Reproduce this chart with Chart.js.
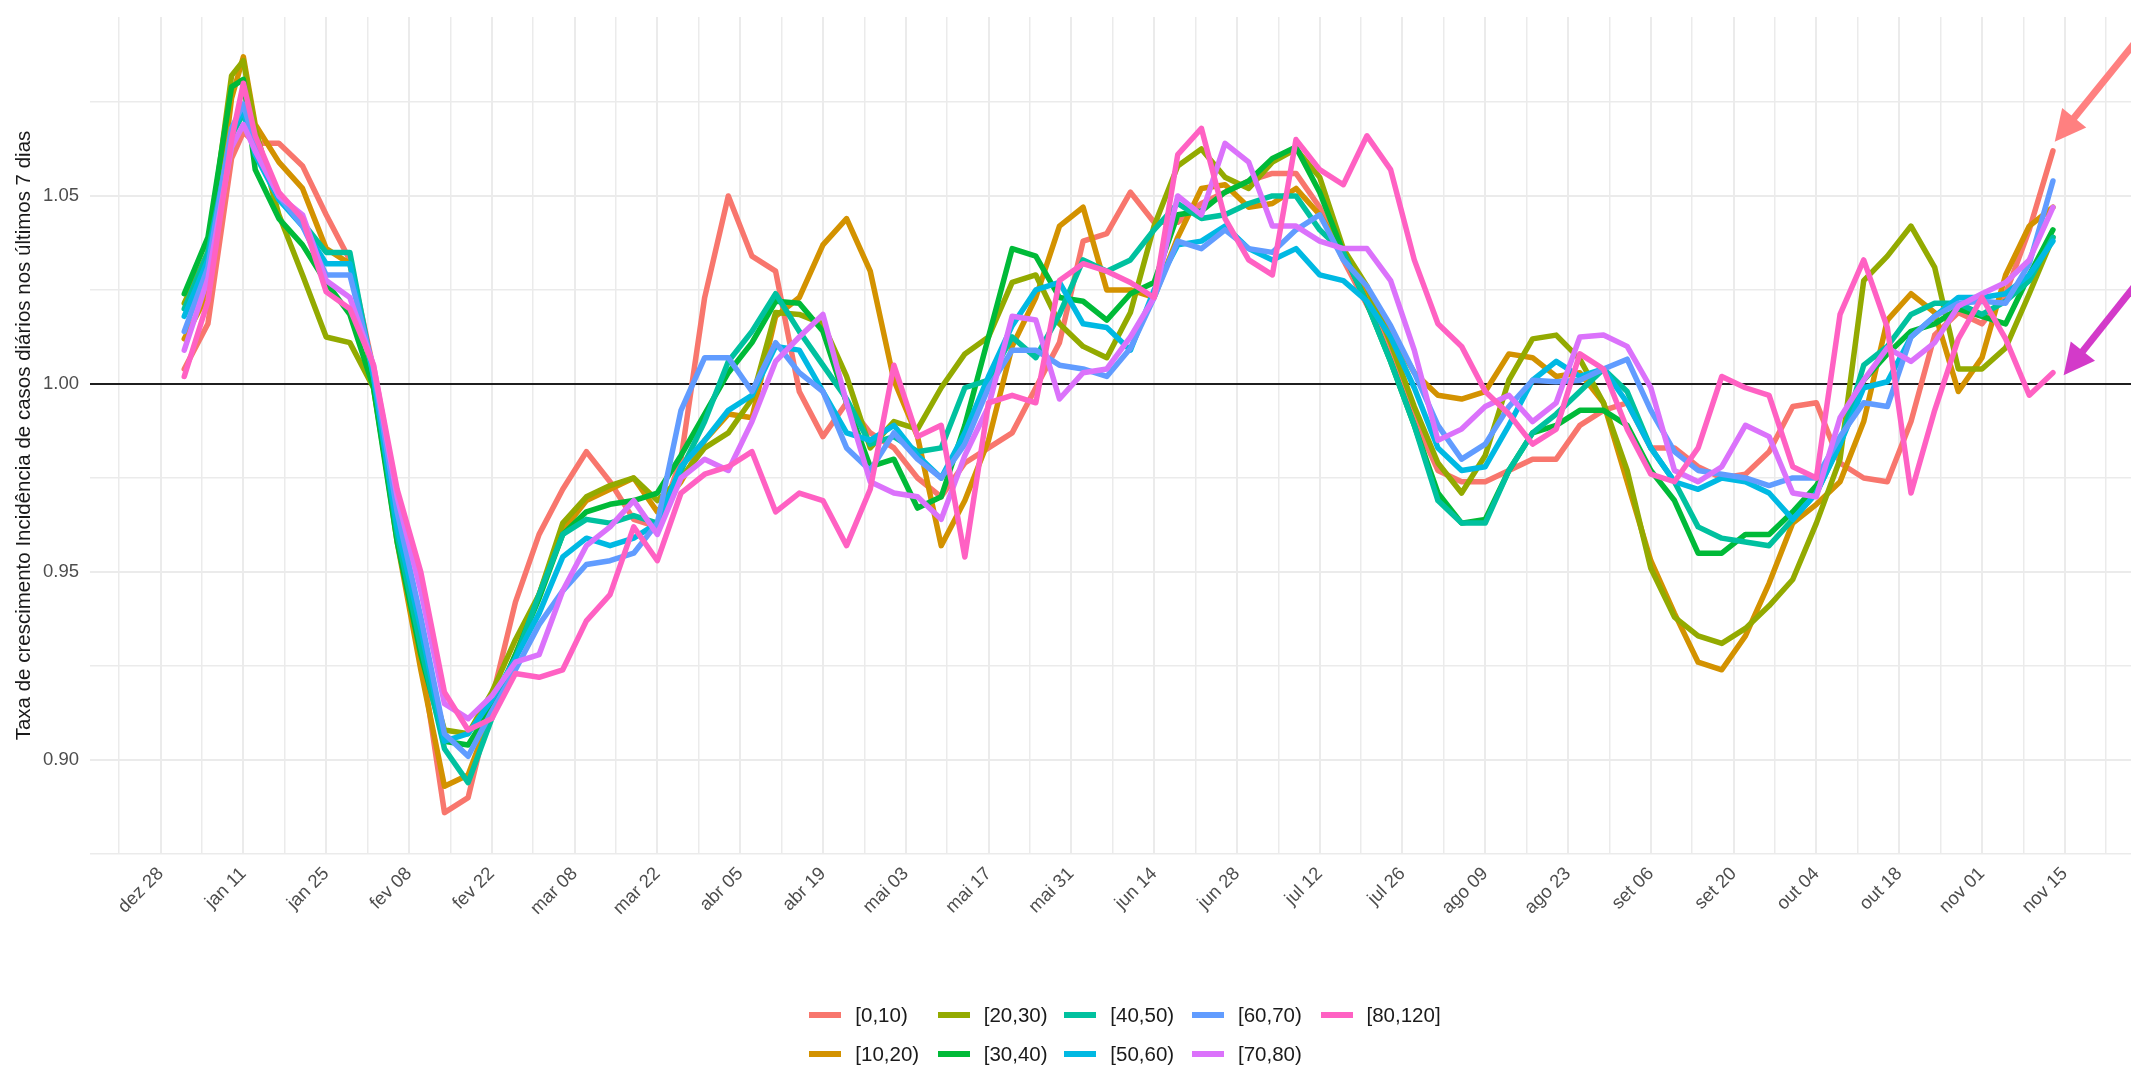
<!DOCTYPE html>
<html>
<head>
<meta charset="utf-8">
<script src="https://cdn.jsdelivr.net/npm/chart.js@4.4.1/dist/chart.umd.min.js"></script>
<style>
html,body{margin:0;padding:0;background:#fff;overflow:hidden;}
#wrap{position:relative;width:2131px;height:1068px;}
#c{position:absolute;left:0;top:0;}
#legend{position:absolute;left:0;top:0;width:2131px;height:1068px;pointer-events:none;
  font-family:"Liberation Sans",Arial,sans-serif;font-size:20.5px;color:#1a1a1a;}
.item{position:absolute;height:26px;display:flex;align-items:center;white-space:nowrap;}
.key{width:32px;height:6px;margin-right:14px;flex:none;}
</style>
</head>
<body>
<div id="wrap">
<canvas id="c" width="2131" height="1068"></canvas>
<div id="legend"></div>
</div>
<script>
// ---------------- data ----------------
// day offsets counted from 28 Dec 2020
const days = [4,8,12,14,16,20,24,28,32,36,40,44,48,52,56,60,64,68,72,76,80,84,88,92,96,100,104,108,112,116,120,124,128,132,136,140,144,148,152,156,160,164,168,172,176,180,184,188,192,196,200,204,208,212,216,220,224,228,232,236,240,244,248,252,256,260,264,268,272,276,280,284,288,292,296,300,304,308,312,316,320];

const seriesNames = ['[0,10)','[10,20)','[20,30)','[30,40)','[40,50)','[50,60)','[60,70)','[70,80)','[80,120]'];

const age0_10 = [1.004,1.016,1.060,1.067,1.064,
 1.064,1.058,1.045,1.033,1.004, 0.963,0.928,0.886,0.890,0.916, 0.942,0.960,0.972,0.982,0.974,
 0.964,0.962,0.980,1.023,1.050, 1.034,1.030,0.998,0.986,0.995, 0.987,0.983,0.975,0.970,0.979,
 0.983,0.987,0.999,1.011,1.038, 1.040,1.051,1.043,1.043,1.048, 1.051,1.054,1.056,1.056,1.047,
 1.033,1.021,1.009,0.991,0.977, 0.974,0.974,0.977,0.980,0.980, 0.989,0.993,0.995,0.983,0.983,
 0.978,0.975,0.976,0.982,0.994, 0.995,0.979,0.975,0.974,0.990, 1.013,1.019,1.016,1.024,1.041, 1.062];

const age10_20 = [1.012,1.024,1.076,1.087,1.069,
 1.059,1.052,1.036,1.032,1.001, 0.958,0.924,0.893,0.896,0.913, 0.928,0.944,0.961,0.969,0.972,
 0.975,0.966,0.974,0.985,0.992, 0.991,1.018,1.023,1.037,1.044, 1.030,1.001,0.986,0.957,0.969,
 0.985,1.010,1.023,1.042,1.047, 1.025,1.025,1.023,1.039,1.052, 1.053,1.047,1.048,1.052,1.045,
 1.035,1.024,1.014,1.003,0.997, 0.996,0.998,1.008,1.007,1.002, 1.003,0.995,0.974,0.953,0.939,
 0.926,0.924,0.933,0.947,0.963, 0.968,0.974,0.990,1.017,1.024, 1.019,0.998,1.007,1.029,1.042, 1.047];

const age20_30 = [1.0215,1.035,1.082,1.086,1.068,
 1.045,1.029,1.0125,1.011,0.999, 0.960,0.930,0.908,0.907,0.918, 0.932,0.944,0.963,0.970,0.973,
 0.975,0.969,0.975,0.983,0.987, 0.996,1.019,1.0185,1.016,1.002, 0.983,0.990,0.988,0.999,1.008,
 1.0125,1.027,1.029,1.016,1.010, 1.007,1.019,1.042,1.058,1.0625, 1.055,1.052,1.059,1.0625,1.055,
 1.036,1.026,1.011,0.994,0.979, 0.971,0.981,1.001,1.012,1.013, 1.0066,0.995,0.977,0.951,0.938,
 0.933,0.931,0.935,0.941,0.948, 0.963,0.980,1.0275,1.034,1.042, 1.031,1.004,1.004,1.0096,1.024, 1.039];

const age30_40 = [1.024,1.039,1.079,1.081,1.057,
 1.044,1.037,1.027,1.0185,0.999, 0.958,0.928,0.905,0.904,0.914, 0.928,0.943,0.960,0.966,0.968,
 0.969,0.971,0.981,0.992,1.003, 1.011,1.022,1.0215,1.014,0.995, 0.978,0.980,0.967,0.970,0.989,
 1.0125,1.036,1.034,1.023,1.022, 1.017,1.024,1.027,1.045,1.046, 1.051,1.054,1.060,1.063,1.051,
 1.035,1.0215,1.006,0.989,0.971, 0.963,0.964,0.977,0.987,0.989, 0.993,0.993,0.989,0.977,0.969,
 0.955,0.955,0.960,0.960,0.966, 0.973,0.984,1.001,1.008,1.014, 1.016,1.020,1.018,1.016,1.029, 1.041];

const age40_50 = [1.020,1.035,1.066,1.072,1.062,
 1.050,1.043,1.035,1.035,1.002, 0.960,0.930,0.903,0.894,0.911, 0.927,0.944,0.960,0.964,0.963,
 0.965,0.963,0.977,0.990,1.006, 1.014,1.024,1.014,1.005,0.996, 0.984,0.986,0.982,0.983,0.999,
 1.001,1.0125,1.007,1.0185,1.033, 1.030,1.033,1.041,1.048,1.044, 1.045,1.048,1.050,1.050,1.041,
 1.035,1.0215,1.006,0.989,0.969, 0.963,0.963,0.977,0.987,0.992, 0.998,1.004,0.998,0.983,0.974,
 0.962,0.959,0.958,0.957,0.964, 0.971,0.984,1.005,1.010,1.0185, 1.0215,1.0215,1.0185,1.022,1.0275, 1.039];

const age50_60 = [1.018,1.033,1.067,1.073,1.061,
 1.049,1.042,1.032,1.032,1.002, 0.962,0.935,0.905,0.907,0.916, 0.927,0.939,0.954,0.959,0.957,
 0.959,0.963,0.978,0.985,0.993, 0.997,1.010,1.009,0.998,0.987, 0.985,0.989,0.981,0.975,0.987,
 1.002,1.0155,1.025,1.027,1.016, 1.015,1.009,1.025,1.037,1.038, 1.042,1.036,1.033,1.036,1.029,
 1.0275,1.022,1.0125,0.999,0.983, 0.977,0.978,0.989,1.001,1.006, 1.002,1.004,0.995,0.983,0.974,
 0.972,0.975,0.974,0.971,0.964, 0.971,0.984,0.999,1.0006,1.0125, 1.018,1.023,1.023,1.024,1.029, 1.038];

const age60_70 = [1.014,1.031,1.068,1.0745,1.063,
 1.050,1.042,1.029,1.029,1.004, 0.966,0.938,0.907,0.901,0.913, 0.924,0.936,0.945,0.952,0.953,
 0.955,0.963,0.993,1.007,1.007, 0.998,1.011,1.003,0.998,0.983, 0.977,0.987,0.980,0.975,0.984,
 0.999,1.009,1.009,1.005,1.004, 1.002,1.0095,1.023,1.038,1.036, 1.041,1.036,1.035,1.041,1.045,
 1.033,1.026,1.0155,1.003,0.989, 0.980,0.984,0.994,1.001,1.0006, 1.001,1.004,1.0066,0.993,0.982,
 0.977,0.976,0.975,0.973,0.975, 0.975,0.986,0.995,0.994,1.0125, 1.018,1.0215,1.022,1.0215,1.032, 1.054];

const age70_80 = [1.009,1.028,1.063,1.069,1.062,
 1.050,1.045,1.0275,1.023,1.005, 0.970,0.945,0.915,0.911,0.917, 0.926,0.928,0.945,0.957,0.962,
 0.969,0.960,0.975,0.980,0.977, 0.990,1.006,1.0125,1.0185,0.995, 0.974,0.971,0.970,0.964,0.981,
 0.994,1.018,1.017,0.996,1.003, 1.004,1.0125,1.023,1.050,1.045, 1.064,1.059,1.042,1.042,1.038,
 1.036,1.036,1.0275,1.009,0.985, 0.988,0.994,0.997,0.990,0.995, 1.0125,1.013,1.010,0.999,0.977,
 0.974,0.978,0.989,0.986,0.971, 0.970,0.991,1.001,1.0096,1.006, 1.011,1.0207,1.024,1.027,1.033, 1.047];

const age80_120 = [1.002,1.022,1.065,1.080,1.066,
 1.051,1.044,1.0245,1.020,1.005, 0.972,0.950,0.918,0.908,0.911, 0.923,0.922,0.924,0.937,0.944,
 0.962,0.953,0.971,0.976,0.978, 0.982,0.966,0.971,0.969,0.957, 0.972,1.005,0.986,0.989,0.954,
 0.995,0.997,0.995,1.0275,1.032, 1.030,1.027,1.023,1.061,1.068, 1.044,1.033,1.029,1.065,1.057,
 1.053,1.066,1.057,1.033,1.016, 1.010,0.998,0.992,0.984,0.988, 1.008,1.004,0.988,0.976,0.974,
 0.983,1.002,0.999,0.997,0.978, 0.975,1.0185,1.033,1.015,0.971, 0.993,1.012,1.023,1.012,0.997, 1.003];

const seriesValues = [age0_10,age10_20,age20_30,age30_40,age40_50,age50_60,age60_70,age70_80,age80_120];
const seriesColors = ['#F8766D','#D39200','#93AA00','#00BA38','#00C19F','#00B9E3','#619CFF','#DB72FB','#FF61C3'];

// x tick labels every 14 days starting at day 0 (dez 28)
const xTickLabels = ['dez 28','jan 11','jan 25','fev 08','fev 22','mar 08','mar 22','abr 05','abr 19','mai 03','mai 17','mai 31','jun 14','jun 28','jul 12','jul 26','ago 09','ago 23','set 06','set 20','out 04','out 18','nov 01','nov 15'];
const yTickLabels = [0.90, 0.95, 1.00, 1.05];
const yGridValues = [0.875,0.900,0.925,0.950,0.975,1.000,1.025,1.050,1.075];
const xGridDays = [-7,0,7,14,21,28,35,42,49,56,63,70,77,84,91,98,105,112,119,126,133,140,147,154,161,168,175,182,189,196,203,210,217,224,231,238,245,252,259,266,273,280,287,294,301,308,315,322,329];
const REF_LINE = 1.0;
const Y_TITLE = 'Taxa de crescimento Incidência de casos diários nos últimos 7 dias';

// annotation arrows (data coordinates: [day, value])
const arrowSalmon = {from:[339.8,1.1023], to:[320.3,1.0644], color:'#FF8080'};
const arrowMagenta = {from:[339.0,1.0363], to:[321.8,1.0023], color:'#D33AC9'};

// ---------------- chart ----------------
const FONT = '"Liberation Sans", Arial, sans-serif';
const X_MIN = -11.94, X_MAX = 333.2, Y_MIN = 0.875, Y_MAX = 1.0976;

const datasets = seriesNames.map((name, i) => ({
  label: name,
  data: days.map((d, k) => ({x: d, y: seriesValues[i][k]})),
  borderColor: seriesColors[i],
  backgroundColor: seriesColors[i],
  borderWidth: 5.5,
  pointRadius: 0,
  tension: 0,
  fill: false,
  borderJoinStyle: 'round',
  borderCapStyle: 'round',
  order: seriesNames.length - i
}));

const refLinePlugin = {
  id: 'refLine',
  beforeDatasetsDraw(chart) {
    const {ctx, chartArea, scales} = chart;
    const y = scales.y.getPixelForValue(REF_LINE);
    ctx.save();
    ctx.strokeStyle = '#1f1f1f';
    ctx.lineWidth = 1.8;
    ctx.beginPath();
    ctx.moveTo(chartArea.left, y);
    ctx.lineTo(chartArea.right, y);
    ctx.stroke();
    ctx.restore();
  }
};

function drawArrow(ctx, x1, y1, x2, y2, color) {
  const ang = Math.atan2(y2 - y1, x2 - x1);
  const headLen = 31, halfW = 15.5, shaftW = 7;
  const c = Math.cos(ang), s = Math.sin(ang);
  const bx = x2 - headLen * c, by = y2 - headLen * s;
  ctx.save();
  ctx.strokeStyle = color;
  ctx.fillStyle = color;
  ctx.lineWidth = shaftW;
  ctx.lineCap = 'butt';
  ctx.beginPath();
  ctx.moveTo(x1, y1);
  ctx.lineTo(bx + 3 * c, by + 3 * s);
  ctx.stroke();
  ctx.beginPath();
  ctx.moveTo(x2, y2);
  ctx.lineTo(bx - halfW * s, by + halfW * c);
  ctx.lineTo(bx + halfW * s, by - halfW * c);
  ctx.closePath();
  ctx.fill();
  ctx.restore();
}

const arrowPlugin = {
  id: 'arrows',
  afterDraw(chart) {
    const {ctx, scales} = chart;
    [arrowSalmon, arrowMagenta].forEach(a => {
      drawArrow(ctx,
        scales.x.getPixelForValue(a.from[0]), scales.y.getPixelForValue(a.from[1]),
        scales.x.getPixelForValue(a.to[0]), scales.y.getPixelForValue(a.to[1]), a.color);
    });
  }
};

const isMajorX = v => Math.abs(v % 14) < 1e-9;
const isMajorY = v => yTickLabels.some(t => Math.abs(t - v) < 1e-9);

new Chart(document.getElementById('c'), {
  type: 'line',
  data: {datasets},
  plugins: [refLinePlugin, arrowPlugin],
  options: {
    responsive: false,
    animation: false,
    events: [],
    layout: {padding: {left: 0, right: 0, top: 17, bottom: 0}},
    plugins: {legend: {display: false}, tooltip: {enabled: false}},
    scales: {
      x: {
        type: 'linear',
        min: X_MIN, max: X_MAX,
        afterBuildTicks: s => { s.ticks = xGridDays.map(v => ({value: v})); },
        afterFit: s => { s.height = 214; s.paddingLeft = 0; s.paddingRight = 0; },
        border: {display: false},
        grid: {
          color: '#EBEBEB',
          lineWidth: ctx => (ctx.tick && isMajorX(ctx.tick.value)) ? 2 : 1.5,
          drawTicks: false
        },
        ticks: {
          autoSkip: false,
          maxRotation: 45, minRotation: 45,
          padding: 9,
          color: '#4D4D4D',
          font: {family: FONT, size: 18.5},
          callback: v => isMajorX(v) ? (xTickLabels[Math.round(v / 14)] || '') : ''
        }
      },
      y: {
        type: 'linear',
        min: Y_MIN, max: Y_MAX,
        afterBuildTicks: s => { s.ticks = yGridValues.map(v => ({value: v})); },
        afterFit: s => { s.width = 90; s.paddingTop = 0; s.paddingBottom = 0; },
        border: {display: false},
        grid: {
          color: '#EBEBEB',
          lineWidth: ctx => (ctx.tick && isMajorY(ctx.tick.value)) ? 2 : 1.5,
          drawTicks: false
        },
        ticks: {
          padding: 11,
          color: '#4D4D4D',
          font: {family: FONT, size: 18.5},
          callback: v => isMajorY(v) ? Number(v).toFixed(2) : ''
        },
        title: {
          display: true,
          text: Y_TITLE,
          color: '#1A1A1A',
          font: {family: FONT, size: 20.5},
          padding: {top: 12.5, bottom: 0}
        }
      }
    }
  }
});

// ---------------- legend (ggplot style, column-major, 2 rows) ----------------
const legendColLeft = [809.3, 937.7, 1064.3, 1192, 1320.5];
const legendRowCenter = [1015.3, 1054.3];
const leg = document.getElementById('legend');
seriesNames.forEach((name, i) => {
  const col = Math.floor(i / 2), row = i % 2;
  const it = document.createElement('div');
  it.className = 'item';
  it.style.left = legendColLeft[col] + 'px';
  it.style.top = (legendRowCenter[row] - 13) + 'px';
  const k = document.createElement('span');
  k.className = 'key';
  k.style.background = seriesColors[i];
  const t = document.createElement('span');
  t.textContent = name;
  it.appendChild(k); it.appendChild(t);
  leg.appendChild(it);
});
</script>
</body>
</html>
